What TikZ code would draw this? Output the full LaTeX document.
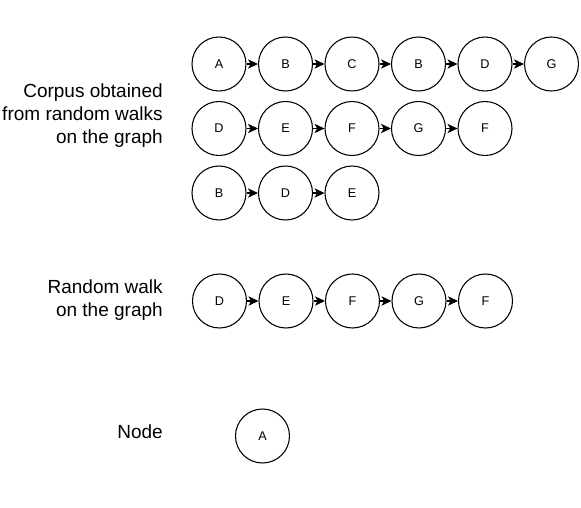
\documentclass[tikz,border=0pt]{standalone}
\usepackage{fontspec}
\setmainfont{Liberation Sans}
\usetikzlibrary{arrows.meta}
\begin{document}
\begin{tikzpicture}[x=0.75pt,y=-0.75pt,
  nd/.style={circle, draw, line width=0.8pt, minimum size=40.5pt, inner sep=0pt,
             font=\fontsize{9.5}{11.4}\selectfont},
  lbl/.style={align=right, anchor=east, inner sep=0pt,
              font=\fontsize{14.25}{17.25}\selectfont},
  arr/.style={-{Stealth[length=7.5pt,width=7pt,inset=2pt]}, line width=0.8pt}]
\useasboundingbox (0,0) rectangle (581,507);
% labels
\node[lbl] (l1) at (163,116) {Corpus obtained\\from random walks\\on the graph};
\node[lbl] (l2) at (163,300.5) {Random walk\\on the graph};
\node[lbl] (l3) at (163,432) {Node};
% row 1
\node[nd] (a1) at (219,64) {A};
\node[nd] (a2) at (285.5,64) {B};
\node[nd] (a3) at (352,64) {C};
\node[nd] (a4) at (418.5,64) {B};
\node[nd] (a5) at (485,64) {D};
\node[nd] (a6) at (551.5,64) {G};
% row 2
\node[nd] (b1) at (219,128.5) {D};
\node[nd] (b2) at (285.5,128.5) {E};
\node[nd] (b3) at (352,128.5) {F};
\node[nd] (b4) at (418.5,128.5) {G};
\node[nd] (b5) at (485,128.5) {F};
% row 3
\node[nd] (c1) at (219,193) {B};
\node[nd] (c2) at (285.5,193) {D};
\node[nd] (c3) at (352,193) {E};
% random walk
\node[nd] (d1) at (219.5,301) {D};
\node[nd] (d2) at (286,301) {E};
\node[nd] (d3) at (352.5,301) {F};
\node[nd] (d4) at (419,301) {G};
\node[nd] (d5) at (485.5,301) {F};
% node
\node[nd] (e1) at (262.5,436) {A};
% arrows
\draw[arr] (a1) -- (a2);
\draw[arr] (a2) -- (a3);
\draw[arr] (a3) -- (a4);
\draw[arr] (a4) -- (a5);
\draw[arr] (a5) -- (a6);
\draw[arr] (b1) -- (b2);
\draw[arr] (b2) -- (b3);
\draw[arr] (b3) -- (b4);
\draw[arr] (b4) -- (b5);
\draw[arr] (c1) -- (c2);
\draw[arr] (c2) -- (c3);
\draw[arr] (d1) -- (d2);
\draw[arr] (d2) -- (d3);
\draw[arr] (d3) -- (d4);
\draw[arr] (d4) -- (d5);
\end{tikzpicture}
\end{document}
